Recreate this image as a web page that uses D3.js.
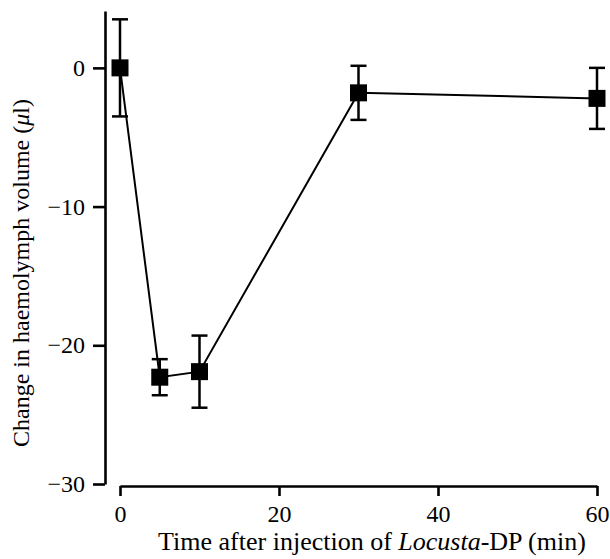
<!DOCTYPE html>
<html>
<head>
<meta charset="utf-8">
<script src="https://cdn.jsdelivr.net/npm/d3@7"></script>
<style>
  body { margin: 0; background: #fff; }
  text { font-family: "Liberation Serif", "Times New Roman", serif; fill: #000; }
  .axis path, .axis line { stroke: #000; stroke-width: 2.6; }
</style>
</head>
<body>
<div id="chart"></div>
<script>
// data
var times = [0, 5, 10, 30, 60]               // min after injection
var volumes = [0, -22.3, -21.9, -1.8, -2.2]  // change in haemolymph volume (ul)
var errors = [3.5, 1.3, 2.6, 1.95, 2.2]      // s.e.m.
var xTicks = [0, 20, 40, 60]
var yTicks = [0, -10, -20, -30]

var width = 610, height = 559
var fontSize = "24px"

var svg = d3.select("#chart").append("svg")
    .attr("width", width)
    .attr("height", height)

var x = d3.scaleLinear().domain([0, 60]).range([120, 597])
var y = d3.scaleLinear().domain([-30, 4.1]).range([484, 11])

//x axis sits a bit below the y axis end, the two don't meet
svg.append("g")
    .attr("class", "axis")
    .attr("transform", "translate(0,486)")
    .call(d3.axisBottom(x).tickValues(xTicks).tickSize(10).tickSizeOuter(0).tickPadding(9))

svg.append("g")
    .attr("class", "axis")
    .attr("transform", "translate(105,0)")
    .call(d3.axisLeft(y).tickValues(yTicks).tickSize(12).tickSizeOuter(0).tickPadding(8))

svg.selectAll(".axis").attr("font-family", null).attr("font-size", null)
svg.selectAll(".axis text").style("font-size", fontSize)

var pts = times.map((t, i) => ({t: t, v: volumes[i], e: errors[i]}))

//error bars
var bars = svg.append("g").attr("id", "errorBars")
bars.selectAll("line.stem").data(pts).enter().append("line")
    .attr("class", "stem")
    .attr("x1", d => x(d.t)).attr("x2", d => x(d.t))
    .attr("y1", d => y(d.v + d.e)).attr("y2", d => y(d.v - d.e))
    .style("stroke", "#000").style("stroke-width", 2.5)
bars.selectAll("line.capTop").data(pts).enter().append("line")
    .attr("class", "capTop")
    .attr("x1", d => x(d.t) - 8).attr("x2", d => x(d.t) + 8)
    .attr("y1", d => y(d.v + d.e)).attr("y2", d => y(d.v + d.e))
    .style("stroke", "#000").style("stroke-width", 2.5)
bars.selectAll("line.capBot").data(pts).enter().append("line")
    .attr("class", "capBot")
    .attr("x1", d => x(d.t) - 8).attr("x2", d => x(d.t) + 8)
    .attr("y1", d => y(d.v - d.e)).attr("y2", d => y(d.v - d.e))
    .style("stroke", "#000").style("stroke-width", 2.5)

//the connecting line
var line = d3.line().x(d => x(d.t)).y(d => y(d.v))
svg.append("path").datum(pts)
    .attr("d", line)
    .style("fill", "none")
    .style("stroke", "#000")
    .style("stroke-width", 2)

//square markers
var size = 17
svg.append("g").selectAll("rect").data(pts).enter().append("rect")
    .attr("x", d => x(d.t) - size / 2)
    .attr("y", d => y(d.v) - size / 2)
    .attr("width", size)
    .attr("height", size)
    .style("fill", "#000")

//axis titles
var xTitle = svg.append("text")
    .attr("x", 372)
    .attr("y", 550)
    .attr("text-anchor", "middle")
    .style("font-size", "26px")
xTitle.append("tspan").text("Time after injection of ")
xTitle.append("tspan").style("font-style", "italic").text("Locusta")
xTitle.append("tspan").text("-DP (min)")

var yTitle = svg.append("text")
    .attr("transform", "translate(29,273) rotate(-90)")
    .attr("text-anchor", "middle")
    .style("font-size", fontSize)
yTitle.append("tspan").text("Change in haemolymph volume (")
yTitle.append("tspan").style("font-style", "italic").text("\u03bc")
yTitle.append("tspan").text("l)")
</script>
</body>
</html>
